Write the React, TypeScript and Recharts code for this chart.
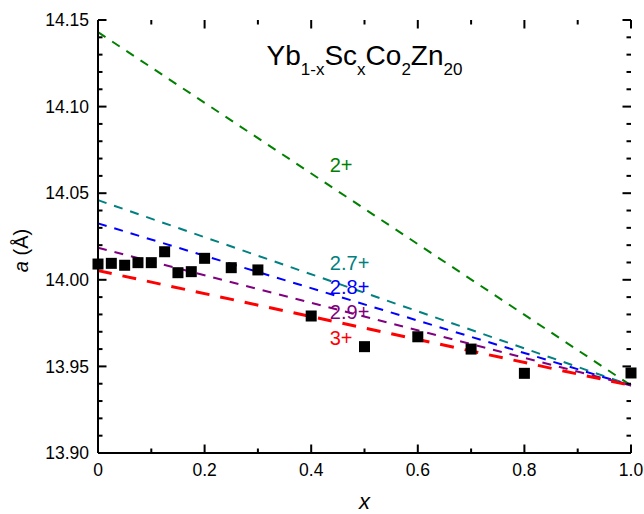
import { ComposedChart, XAxis, YAxis, Line, Scatter, ReferenceDot, Label } from "recharts";

const FONT = '"Liberation Sans", Arial, Helvetica, sans-serif';

// measured lattice parameter a (Å) vs Sc content x
const sampleX = [0, 0.025, 0.05, 0.075, 0.1, 0.125, 0.15, 0.175, 0.2, 0.25, 0.3, 0.4, 0.5, 0.6, 0.7, 0.8, 1.0];
const latticeA = [
  14.0091, 14.0095, 14.0084, 14.0099, 14.0099, 14.0162, 14.0041, 14.0047, 14.0124, 14.007, 14.0057,
  13.9791, 13.9614, 13.9671, 13.96, 13.946, 13.9462,
];

// Vegard's-law lines for different Yb valences
const valenceLabels = ["2+", "2.7+", "2.8+", "2.9+", "3+"];
const valenceColors = ["#008000", "#008080", "#0000ff", "#800080", "#ff0000"];
const aAtYb = [14.143, 14.046, 14.0326, 14.0185, 14.0053]; // x = 0
const aAtSc = 13.939; // x = 1
const lineX = [0, 1];

// where the valence labels sit (data coords)
const labelAtX = [0.456, 0.472, 0.472, 0.472, 0.456];
const labelAtA = [14.0663, 14.0099, 13.996, 13.9816, 13.9664];

const xMajorTicks = [0, 0.2, 0.4, 0.6, 0.8, 1.0];
const xTickLabels = ["0", "0.2", "0.4", "0.6", "0.8", "1.0"];
const xMinorTicks = [0.1, 0.3, 0.5, 0.7, 0.9];
const yMajorTicks = [13.9, 13.95, 14.0, 14.05, 14.1, 14.15];
const yTickLabels = ["13.90", "13.95", "14.00", "14.05", "14.10", "14.15"];
const yMinorTicks = Array.from({ length: 24 }, (_, i) => +(13.91 + 0.01 * i).toFixed(2)).filter(
  (v) => !yMajorTicks.includes(v)
);

const X_DOMAIN = [0, 1];
const Y_DOMAIN = [13.9, 14.15];

const points = sampleX.map((x, i) => ({ x, a: latticeA[i] }));
const lines = valenceLabels.map((_, i) => lineX.map((x) => ({ x, a: x === 0 ? aAtYb[i] : aAtSc })));

// tick mark anchors on the frame
const xMarks = [...xMajorTicks.map((x) => ({ x, major: true })), ...xMinorTicks.map((x) => ({ x, major: false }))];
const yMarks = [...yMajorTicks.map((a) => ({ a, major: true })), ...yMinorTicks.map((a) => ({ a, major: false }))];
const bottomMarks = xMarks.map((t) => ({ ...t, a: Y_DOMAIN[0] }));
const topMarks = xMarks.map((t) => ({ ...t, a: Y_DOMAIN[1] }));
const leftMarks = yMarks.map((t) => ({ ...t, x: X_DOMAIN[0] }));
const rightMarks = yMarks.map((t) => ({ ...t, x: X_DOMAIN[1] }));

const MAJOR = 8.5;
const MINOR = 4.5;
const TW = 2;
const X_GAP = 11;
const Y_GAP = 9;
const TICK_FONT = 17.5;
const axisLineStyle = { stroke: "#000", strokeWidth: 2 };

// small filled bar pointing into the plot
function TickMark(props: any) {
  const { cx, cy, payload, side } = props;
  const len = payload && payload.major ? MAJOR : MINOR;
  if (side === "b") return <rect x={cx - TW / 2} y={cy - len} width={TW} height={len} fill="#000" />;
  if (side === "t") return <rect x={cx - TW / 2} y={cy} width={TW} height={len} fill="#000" />;
  if (side === "l") return <rect x={cx} y={cy - TW / 2} width={len} height={TW} fill="#000" />;
  return <rect x={cx - len} y={cy - TW / 2} width={len} height={TW} fill="#000" />;
}

function BottomTick(props: any) {
  const { x, y, payload } = props;
  const i = xMajorTicks.indexOf(payload.value);
  return (
    <text x={x} y={y} dy="0.71em" textAnchor="middle" fontSize={TICK_FONT} fontFamily={FONT} fill="#000">
      {xTickLabels[i]}
    </text>
  );
}

function LeftTick(props: any) {
  const { x, y, payload } = props;
  const i = yMajorTicks.indexOf(payload.value);
  return (
    <text x={x} y={y} dy="0.355em" textAnchor="end" fontSize={TICK_FONT} fontFamily={FONT} fill="#000">
      {yTickLabels[i]}
    </text>
  );
}

const Square = (props: any) => (
  <rect x={props.cx - 5.5} y={props.cy - 5.5} width={11} height={11} fill="#000" />
);

const titleParts: [string, boolean][] = [
  ["Yb", false],
  ["1-x", true],
  ["Sc", false],
  ["x", true],
  ["Co", false],
  ["2", true],
  ["Zn", false],
  ["20", true],
];

function Title(props: any) {
  const { x, y } = props.viewBox;
  return (
    <text x={x} y={y} textAnchor="middle" fontSize={28} fontFamily={FONT} fill="#000">
      {titleParts.map(([t, sub], i) => (
        <tspan key={i} dy={i === 0 ? 0 : sub ? 10 : -10} fontSize={sub ? 17 : 28}>
          {t}
        </tspan>
      ))}
    </text>
  );
}

function ValenceLabel(props: any) {
  const { x, y } = props.viewBox;
  const i = props.idx;
  return (
    <text x={x} y={y} dy="0.355em" textAnchor="middle" fontSize={20} fontFamily={FONT} fill={valenceColors[i]}>
      {valenceLabels[i]}
    </text>
  );
}

function YTitle(props: any) {
  const { x, y, height } = props.viewBox;
  const cx = x + 28;
  const cy = y + height / 2 + 14;
  return (
    <text x={cx} y={cy} transform={`rotate(-90 ${cx} ${cy})`} textAnchor="middle" fontSize={20} fontFamily={FONT} fill="#000">
      <tspan fontStyle="italic">a</tspan> (Å)
    </text>
  );
}

function XTitle(props: any) {
  const { x, y, width } = props.viewBox;
  return (
    <text x={x + width / 2} y={y + 56} textAnchor="middle" fontSize={22} fontStyle="italic" fontFamily={FONT} fill="#000">
      x
    </text>
  );
}

export default function App() {
  return (
    <div style={{ position: "absolute", left: 0, top: 0, width: 644, height: 514, background: "#fff" }}>
      <ComposedChart width={644} height={514} margin={{ top: 20, right: 13, bottom: 0, left: 0 }}>
        <XAxis
          type="number"
          dataKey="x"
          domain={X_DOMAIN}
          ticks={xMajorTicks}
          interval={0}
          height={61}
          tickSize={0}
          tickMargin={X_GAP}
          tick={<BottomTick />}
          tickLine={false}
          axisLine={axisLineStyle}
        >
          <Label content={<XTitle />} />
        </XAxis>
        <XAxis
          xAxisId="top"
          orientation="top"
          type="number"
          domain={X_DOMAIN}
          height={0}
          tick={false}
          tickLine={false}
          axisLine={axisLineStyle}
        />
        <YAxis
          type="number"
          dataKey="a"
          domain={Y_DOMAIN}
          ticks={yMajorTicks}
          interval={0}
          width={98}
          tickSize={0}
          tickMargin={Y_GAP}
          tick={<LeftTick />}
          tickLine={false}
          axisLine={axisLineStyle}
        >
          <Label content={<YTitle />} />
        </YAxis>
        <YAxis
          yAxisId="right"
          orientation="right"
          type="number"
          domain={Y_DOMAIN}
          width={0}
          tick={false}
          tickLine={false}
          axisLine={axisLineStyle}
        />
        <Scatter data={bottomMarks} dataKey="a" fill="#000" shape={<TickMark side="b" />} isAnimationActive={false} />
        <Scatter data={topMarks} dataKey="a" fill="#000" shape={<TickMark side="t" />} isAnimationActive={false} />
        <Scatter data={leftMarks} dataKey="a" fill="#000" shape={<TickMark side="l" />} isAnimationActive={false} />
        <Scatter data={rightMarks} dataKey="a" fill="#000" shape={<TickMark side="r" />} isAnimationActive={false} />
        {lines.map((d, i) => (
          <Line
            key={valenceLabels[i]}
            data={d}
            dataKey="a"
            type="linear"
            stroke={valenceColors[i]}
            strokeWidth={i === 4 ? 3 : 2}
            strokeDasharray={i === 4 ? "14 11" : "9 8"}
            dot={false}
            activeDot={false}
            isAnimationActive={false}
          />
        ))}
        <Scatter data={points} dataKey="a" fill="#000" shape={<Square />} isAnimationActive={false} />
        {valenceLabels.map((t, i) => (
          <ReferenceDot
            key={"lbl" + t}
            x={labelAtX[i]}
            y={labelAtA[i]}
            r={0}
            fill="none"
            stroke="none"
            label={<ValenceLabel idx={i} />}
          />
        ))}
        <ReferenceDot x={0.5} y={14.124} r={0} fill="none" stroke="none" label={<Title />} />
      </ComposedChart>
    </div>
  );
}
